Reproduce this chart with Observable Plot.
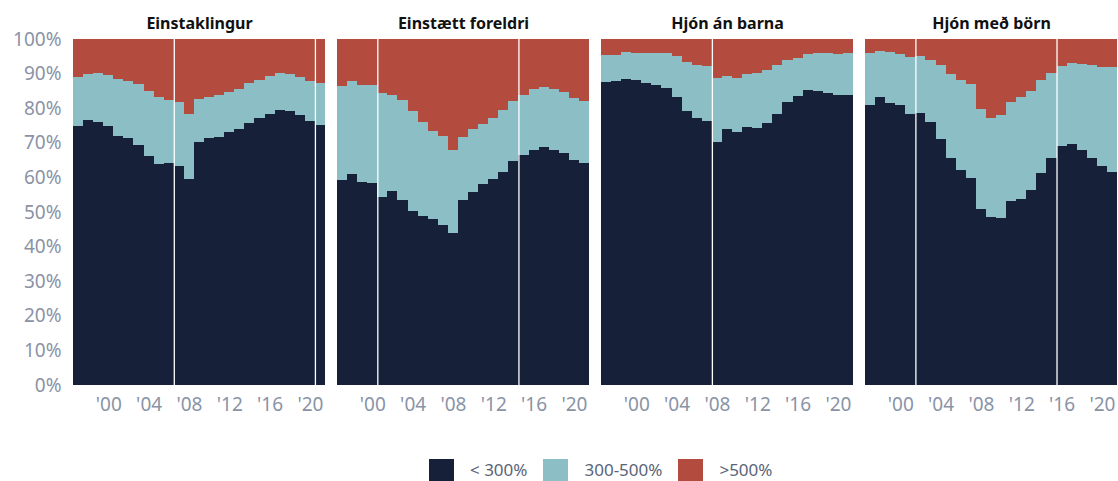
<!DOCTYPE html>
<html>
<head>
<meta charset="utf-8">
<script src="https://cdn.jsdelivr.net/npm/d3@7"></script>
<script src="https://cdn.jsdelivr.net/npm/@observablehq/plot@0.6"></script>
<style>
  html, body { margin: 0; padding: 0; background: #fff; overflow: hidden; }
  body { font-family: "Noto Sans", sans-serif; width: 1118px; height: 481px; }
  #legend { display: flex; align-items: center; margin-left: 429px; margin-top: 29px; height: 22px; }
  #legend .sw { width: 25px; height: 22px; margin-right: 16px; }
  #legend .lab { font-size: 17px; color: #5a6478; margin-right: 16px; line-height: 22px; }
</style>
</head>
<body>
<div id="chart"></div>
<div id="legend"></div>
<script>
const groups = ["Einstaklingur", "Einstætt foreldri", "Hjón án barna", "Hjón með börn"];
const years = [1997, 1998, 1999, 2000, 2001, 2002, 2003, 2004, 2005, 2006, 2007, 2008, 2009,
               2010, 2011, 2012, 2013, 2014, 2015, 2016, 2017, 2018, 2019, 2020, 2021];
const categories = ["< 300%", "300-500%", ">500%"];
const colors = ["#162039", "#8bbfc5", "#b44b3f"];

// share below 300% (percent) for each group
const under300 = [
  [74.9, 76.6, 76.0, 74.9, 72.0, 71.4, 69.4, 66.3, 63.9, 64.2, 63.3, 59.6, 70.3, 71.4, 71.7, 73.2, 74.0, 75.8, 77.2, 78.4, 79.5, 79.2, 78.1, 76.3, 75.1],
  [59.3, 61.0, 58.7, 58.4, 54.4, 56.1, 53.5, 50.4, 48.9, 48.1, 46.3, 44.0, 53.6, 55.8, 58.2, 59.6, 61.6, 64.8, 66.5, 68.0, 68.8, 68.0, 67.1, 65.1, 64.2],
  [87.6, 87.9, 88.5, 88.2, 87.3, 86.7, 85.9, 83.3, 79.2, 77.2, 76.3, 70.3, 74.0, 73.2, 74.6, 74.3, 75.8, 78.4, 81.8, 83.5, 85.3, 85.0, 84.4, 83.8, 83.8],
  [81.0, 83.3, 81.5, 81.0, 78.4, 78.7, 76.0, 71.1, 65.7, 62.2, 59.9, 50.9, 48.6, 48.3, 53.2, 53.8, 56.4, 61.3, 65.7, 69.0, 69.6, 68.0, 65.7, 63.3, 61.6]
];
// cumulative share up to 500% (percent) for each group
const upTo500 = [
  [89.0, 89.9, 90.2, 89.6, 88.5, 87.9, 87.0, 85.0, 83.3, 82.4, 81.8, 78.4, 82.7, 83.3, 83.8, 84.7, 85.6, 87.3, 88.2, 89.3, 90.2, 89.9, 89.0, 87.9, 87.3],
  [86.4, 87.9, 86.7, 86.7, 84.4, 83.8, 82.4, 79.2, 76.0, 73.4, 72.0, 67.9, 71.7, 74.0, 75.5, 77.2, 79.5, 82.1, 83.8, 85.6, 86.1, 85.6, 84.7, 83.0, 82.1],
  [95.4, 95.4, 96.2, 96.0, 96.0, 96.0, 96.0, 95.1, 93.4, 92.5, 92.2, 88.7, 89.3, 88.7, 89.9, 90.2, 91.1, 92.5, 93.9, 94.5, 95.7, 96.0, 96.0, 95.7, 96.0],
  [96.0, 96.5, 96.2, 95.7, 94.8, 95.1, 93.9, 92.5, 89.9, 88.2, 87.0, 79.8, 77.2, 78.1, 81.8, 83.3, 85.0, 88.2, 90.2, 92.2, 93.1, 92.8, 92.5, 91.9, 91.9]
];
// series breaks: first year of a new series, per group
const breakGroups = ["Einstaklingur", "Einstaklingur", "Einstætt foreldri", "Einstætt foreldri", "Hjón án barna", "Hjón með börn", "Hjón með börn"];
const breakYears = [2007, 2021, 2001, 2015, 2008, 2002, 2016];

const xTicks = [2000, 2004, 2008, 2012, 2016, 2020];
const yTicks = [0, 10, 20, 30, 40, 50, 60, 70, 80, 90, 100];

const rows = [];
groups.forEach((g, gi) => {
  years.forEach((yr, i) => {
    const a = under300[gi][i], b = upTo500[gi][i];
    rows.push({group: g, year: yr, cat: categories[0], y1: 0, y2: a});
    rows.push({group: g, year: yr, cat: categories[1], y1: a, y2: b});
    rows.push({group: g, year: yr, cat: categories[2], y1: b, y2: 100});
  });
});
const breaks = breakYears.map((yr, i) => ({group: breakGroups[i], year: yr}));

const chart = Plot.plot({
  width: 1118,
  height: 430,
  marginLeft: 72,
  marginRight: 1,
  marginTop: 39,
  marginBottom: 45,
  style: {fontFamily: "Noto Sans, sans-serif", background: "#fff"},
  fx: {domain: groups, padding: 0.0466, label: null},
  x: {domain: [years[0] - 0.5, years[years.length - 1] + 0.5], label: null},
  y: {domain: [0, 100], label: null},
  color: {domain: categories, range: colors},
  marks: [
    Plot.rectY(rows, {
      fx: "group",
      x1: d => d.year - 0.5,
      x2: d => d.year + 0.5,
      y1: "y1",
      y2: "y2",
      fill: "cat",
      inset: 0,
      shapeRendering: "crispEdges"
    }),
    Plot.ruleX(breaks, {fx: "group", x: d => d.year - 0.5, stroke: "#fff", strokeWidth: 1.3}),
    Plot.axisFx({anchor: "top", tickSize: 0, tickPadding: 11, label: null,
      fontSize: 16, fontWeight: "bold", fill: "#111"}),
    Plot.axisX({ticks: xTicks, tickFormat: d => "'" + String(d).slice(2), tickSize: 0,
      tickPadding: 12, fontSize: 19, fill: "#8a93a6", label: null}),
    Plot.axisY({ticks: yTicks, tickFormat: d => d + "%", tickSize: 0, tickPadding: 12,
      fontSize: 19, fill: "#8a93a6", label: null, facetAnchor: "left"})
  ]
});
document.getElementById("chart").appendChild(chart);

const legend = document.getElementById("legend");
categories.forEach((c, i) => {
  const sw = document.createElement("div");
  sw.className = "sw";
  sw.style.background = colors[i];
  const lab = document.createElement("div");
  lab.className = "lab";
  lab.textContent = c;
  legend.appendChild(sw);
  legend.appendChild(lab);
});
</script>
</body>
</html>
